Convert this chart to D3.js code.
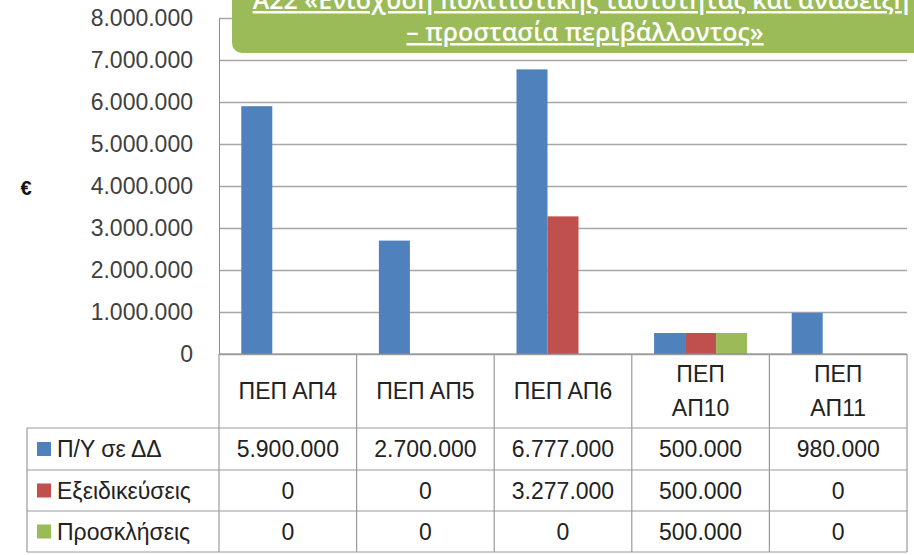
<!DOCTYPE html>
<html>
<head>
<meta charset="utf-8">
<script src="https://cdn.jsdelivr.net/npm/d3@7"></script>
<style>
  body { margin: 0; background: #fff; }
  svg { display: block; }
</style>
</head>
<body>
<div id="chart"></div>
<script>
const categories = ["ΠΕΠ ΑΠ4", "ΠΕΠ ΑΠ5", "ΠΕΠ ΑΠ6", "ΠΕΠ ΑΠ10", "ΠΕΠ ΑΠ11"];
const categoryLines = [["ΠΕΠ ΑΠ4"], ["ΠΕΠ ΑΠ5"], ["ΠΕΠ ΑΠ6"], ["ΠΕΠ", "ΑΠ10"], ["ΠΕΠ", "ΑΠ11"]];
const seriesNames = ["Π/Υ σε ΔΔ", "Εξειδικεύσεις", "Προσκλήσεις"];
const budget = [5900000, 2700000, 6777000, 500000, 980000];
const specs = [0, 0, 3277000, 500000, 0];
const calls = [0, 0, 0, 500000, 0];
const yTicks = [0, 1000000, 2000000, 3000000, 4000000, 5000000, 6000000, 7000000, 8000000];
const titleLines = ["Α22 «Ενίσχυση πολιτιστικής ταυτότητας και ανάδειξη", "– προστασία περιβάλλοντος»"];
const colors = ["#4F81BD", "#C0504D", "#9BBB59"];

const seriesValues = [budget, specs, calls];
const dataset = [];
categories.forEach((c, i) => {
  seriesNames.forEach((s, j) => dataset.push({ cat: c, series: s, value: seriesValues[j][i], k: j }));
});

const W = 914, H = 555;
const plotLeft = 219, plotRight = 907, plotTop = 18, base = 354;
const rowEdges = [354, 428, 470, 511, 552];
const legendLeft = 27;

const locale = d3.formatLocale({ decimal: ",", thousands: ".", grouping: [3], currency: ["", "€"] });
const fmt = locale.format(",.0f");

const svg = d3.select("#chart").append("svg").attr("width", W).attr("height", H);

const x = d3.scaleBand().domain(categories).range([plotLeft, plotRight]);
const bw = x.bandwidth();
const gap = bw * 0.324;
const x1 = d3.scaleBand().domain(seriesNames).range([gap / 2, bw - gap / 2]);
const y = d3.scaleLinear().domain([0, 8000000]).range([base, plotTop]);

const font = "'Liberation Sans', Arial, sans-serif";

// gridlines
svg.append("g")
  .attr("transform", `translate(${plotLeft},0)`)
  .call(d3.axisLeft(y).tickValues(yTicks).tickSize(-(plotRight - plotLeft)).tickFormat(""))
  .call(g => g.select(".domain").remove())
  .call(g => g.selectAll("line").attr("stroke", "#a6a6a6").attr("stroke-width", 1.3));

// y axis labels
svg.append("g")
  .attr("transform", `translate(${plotLeft},0)`)
  .call(d3.axisLeft(y).tickValues(yTicks).tickSize(0).tickPadding(26).tickFormat(fmt))
  .call(g => g.select(".domain").attr("stroke", "#8c8c8c"))
  .call(g => g.selectAll("text").attr("fill", "#404040").style("font-family", font).style("font-size", "23px"));

svg.append("text")
  .attr("x", 26).attr("y", 195)
  .attr("text-anchor", "middle")
  .style("font-family", font).style("font-size", "20px").style("font-weight", "bold")
  .attr("fill", "#111")
  .text("€");

// bars
svg.append("g").selectAll("rect")
  .data(dataset.filter(d => d.value > 0))
  .enter().append("rect")
  .attr("x", d => x(d.cat) + x1(d.series))
  .attr("y", d => y(d.value))
  .attr("width", x1.bandwidth())
  .attr("height", d => base - y(d.value))
  .attr("fill", d => colors[d.k]);

// data table
const tbl = svg.append("g").attr("stroke", "#9a9a9a").attr("stroke-width", 1.2);
tbl.append("line").attr("x1", plotLeft).attr("x2", plotRight).attr("y1", base).attr("y2", base).attr("stroke", "#8c8c8c");
rowEdges.slice(1).forEach(yy => {
  tbl.append("line").attr("x1", legendLeft).attr("x2", plotRight).attr("y1", yy).attr("y2", yy);
});
tbl.append("line").attr("x1", legendLeft).attr("x2", legendLeft).attr("y1", rowEdges[1]).attr("y2", rowEdges[4]);
categories.forEach(c => {
  tbl.append("line").attr("x1", x(c)).attr("x2", x(c)).attr("y1", base).attr("y2", rowEdges[4]);
});
tbl.append("line").attr("x1", plotRight).attr("x2", plotRight).attr("y1", base).attr("y2", rowEdges[4]);

const txt = svg.append("g").style("font-family", font).style("font-size", "23px").attr("fill", "#222");

categoryLines.forEach((lines, i) => {
  const cx = x(categories[i]) + bw / 2;
  const cy = (rowEdges[0] + rowEdges[1]) / 2;
  lines.forEach((l, j) => {
    txt.append("text")
      .attr("x", cx)
      .attr("y", cy + (j - (lines.length - 1) / 2) * 34)
      .attr("dy", "0.35em")
      .attr("text-anchor", "middle")
      .text(l);
  });
});

seriesNames.forEach((s, j) => {
  const cy = (rowEdges[j + 1] + rowEdges[j + 2]) / 2;
  svg.append("rect")
    .attr("x", 37).attr("y", cy - 7).attr("width", 14).attr("height", 14)
    .attr("fill", colors[j]);
  txt.append("text").attr("x", 57).attr("y", cy).attr("dy", "0.35em").text(s);
  categories.forEach((c, i) => {
    txt.append("text")
      .attr("x", x(c) + bw / 2).attr("y", cy).attr("dy", "0.35em")
      .attr("text-anchor", "middle")
      .text(fmt(seriesValues[j][i]));
  });
});

// title box
svg.append("rect")
  .attr("x", 232).attr("y", -20).attr("width", 720).attr("height", 73)
  .attr("rx", 10)
  .attr("fill", "#9BBB59");
svg.append("g").selectAll("text")
  .data(titleLines)
  .enter().append("text")
  .attr("x", (d, i) => i === 0 ? 581 : 585)
  .attr("y", (d, i) => 9 + i * 32)
  .attr("text-anchor", "middle")
  .attr("fill", "#fff")
  .style("font-family", "'Open Sans', sans-serif")
  .style("font-size", "25px")
  .style("font-weight", 600)
  .style("text-decoration", "underline")
  .text(d => d);
</script>
</body>
</html>
